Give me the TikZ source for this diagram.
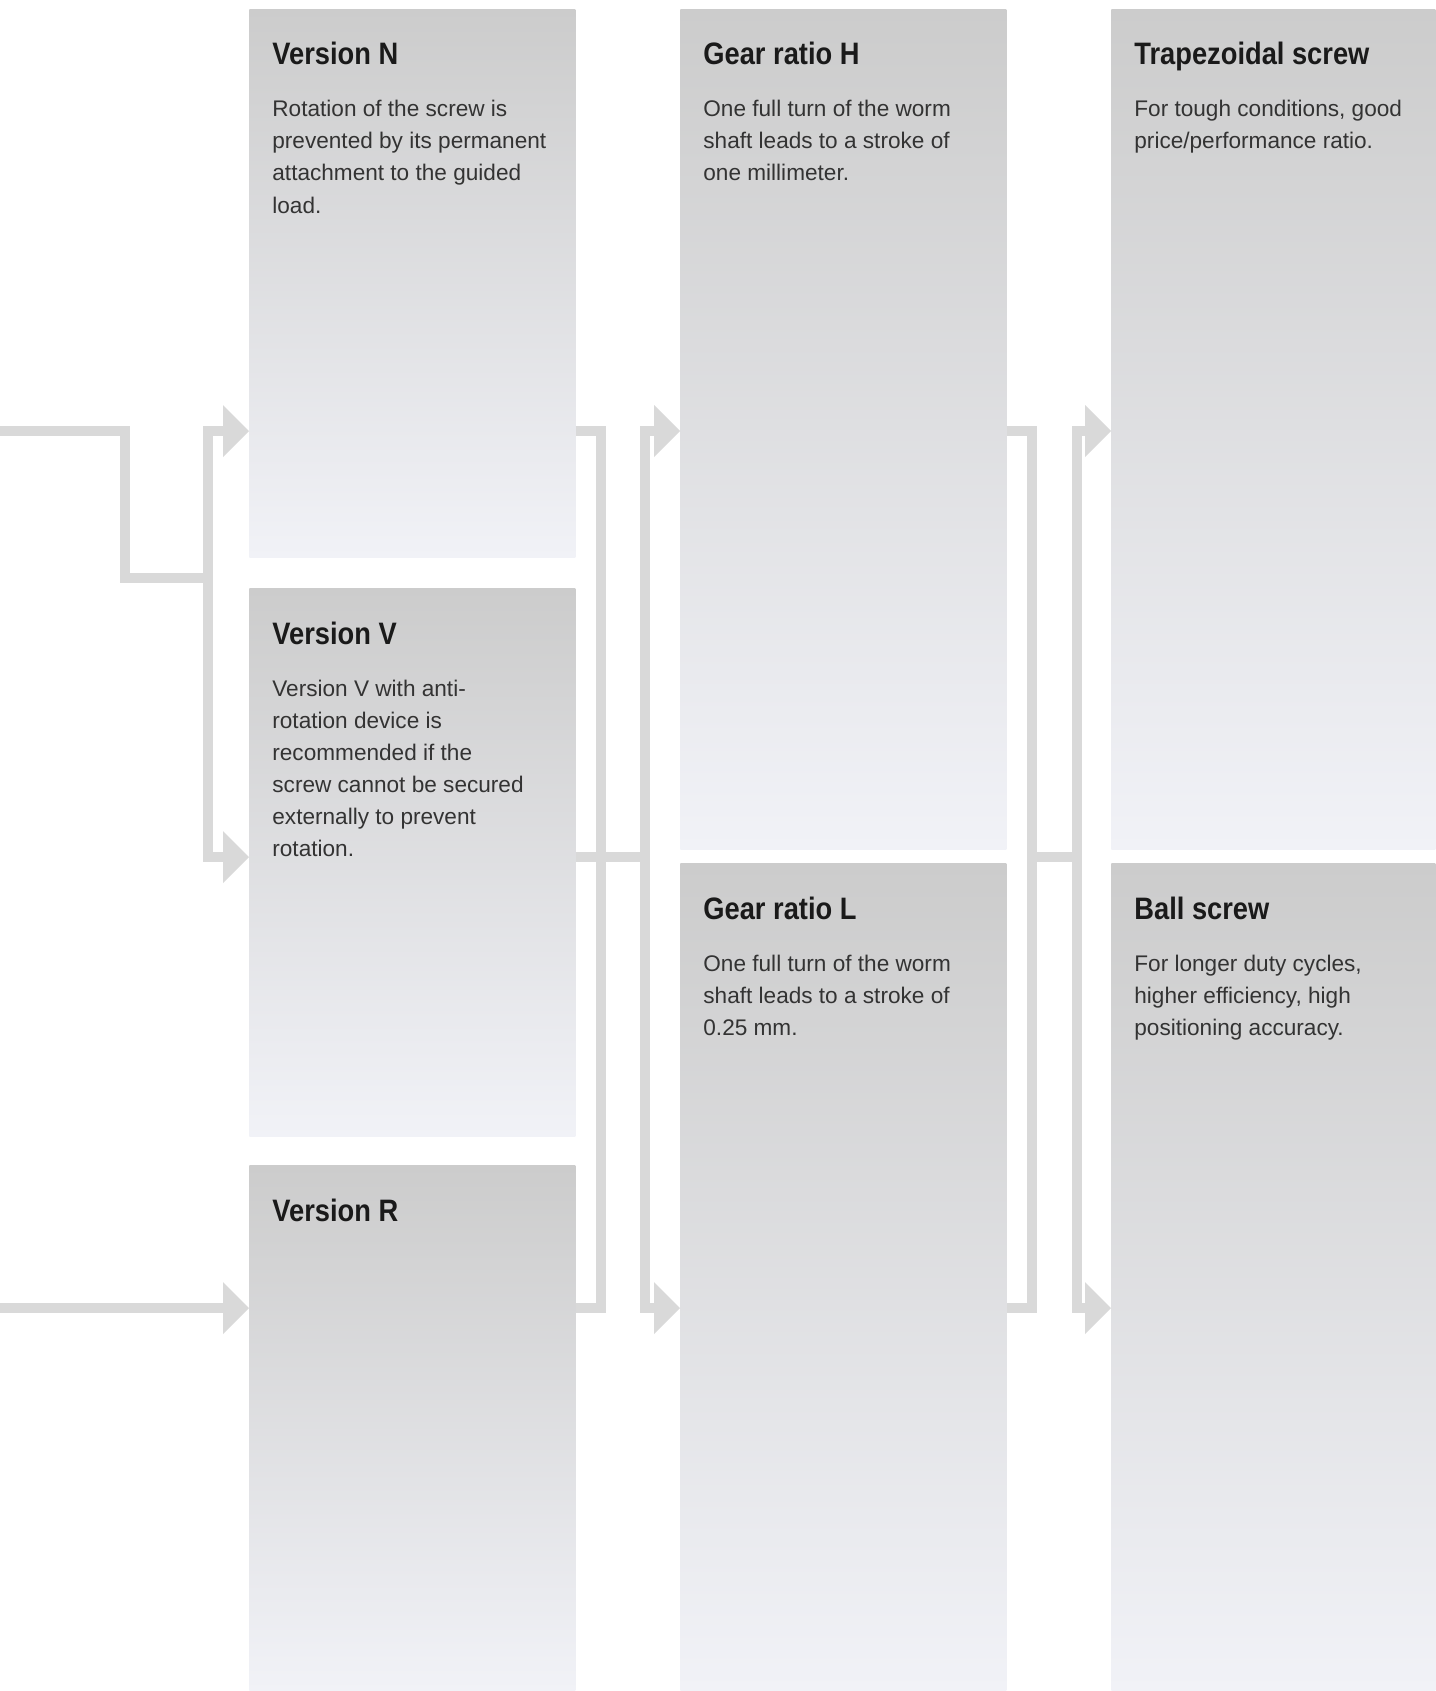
\documentclass[tikz,border=0pt]{standalone}
\usepackage{fontspec}
\setmainfont{Liberation Sans}
\newfontfamily\headfont{Liberation Sans}[FakeStretch=0.88]
\usetikzlibrary{arrows.meta}
\definecolor{pipegray}{HTML}{D9D9D9}
\definecolor{boxtop}{HTML}{CCCCCC}
\definecolor{boxbottom}{HTML}{F1F2F7}
\definecolor{headtext}{HTML}{1A1A1A}
\definecolor{bodytext}{HTML}{333333}
\newcommand{\boxlines}[1]{\begin{tabular}[t]{@{}l@{}}#1\end{tabular}}
\begin{document}
\begin{tikzpicture}[x=0.5pt,y=-0.5pt,>={Triangle[length=13pt,width=26pt,line width=0pt]},
	box/.style={rectangle,inner sep=0pt,anchor=north west,top color=boxtop,bottom color=boxbottom,minimum width=163pt},
	heading/.style={anchor=base west,inner sep=0pt,text=headtext,font=\headfont\bfseries\fontsize{15.5}{18}\selectfont},
	body/.style={anchor=base west,inner sep=0pt,text=bodytext,font=\fontsize{11.3}{16}\selectfont},
	pipe/.style={draw=pipegray,line width=5pt,line join=miter}]
		\useasboundingbox (0,0) rectangle (1435,1691);
		% boxes
		\node[box,minimum height=274pt] (N) at (249,9) {};
		\node[box,minimum height=274pt] (V) at (249,588) {};
		\node[box,minimum height=263pt] (R) at (249,1165) {};
		\node[box,minimum height=420pt] (H) at (680,9) {};
		\node[box,minimum height=414pt] (L) at (680,863) {};
		\node[box,minimum height=420pt,minimum width=162pt] (T) at (1111,9) {};
		\node[box,minimum height=414pt,minimum width=162pt] (B) at (1111,863) {};
		% texts
		\node[heading] (Nh) at ([shift={(23,56)}]N.north west) {Version N};
		\node[body] (Nt) at ([shift={(23,108)}]N.north west) {\boxlines{Rotation of the screw is\\prevented by its permanent\\attachment to the guided\\load.}};
		\node[heading] (Vh) at ([shift={(23,56)}]V.north west) {Version V};
		\node[body] (Vt) at ([shift={(23,108)}]V.north west) {\boxlines{Version V with anti-\\rotation device is\\recommended if the\\screw cannot be secured\\externally to prevent\\rotation.}};
		\node[heading] (Rh) at ([shift={(23,56)}]R.north west) {Version R};
		\node[heading] (Hh) at ([shift={(23,56)}]H.north west) {Gear ratio H};
		\node[body] (Ht) at ([shift={(23,108)}]H.north west) {\boxlines{One full turn of the worm\\shaft leads to a stroke of\\one millimeter.}};
		\node[heading] (Lh) at ([shift={(23,56)}]L.north west) {Gear ratio L};
		\node[body] (Lt) at ([shift={(23,108)}]L.north west) {\boxlines{One full turn of the worm\\shaft leads to a stroke of\\0.25 mm.}};
		\node[heading] (Th) at ([shift={(23,56)}]T.north west) {Trapezoidal screw};
		\node[body] (Tt) at ([shift={(23,108)}]T.north west) {\boxlines{For tough conditions, good\\price/performance ratio.}};
		\node[heading] (Bh) at ([shift={(23,56)}]B.north west) {Ball screw};
		\node[body] (Bt) at ([shift={(23,108)}]B.north west) {\boxlines{For longer duty cycles,\\higher efficiency, high\\positioning accuracy.}};
		% levels of the connectors
		\coordinate (ya) at (0,431);
		\coordinate (yc) at (0,857);
		\coordinate (yd) at (0,1308);
		\coordinate (in1) at (0,431);
		\coordinate (in2) at (0,1308);
		% inlet
		\draw[pipe] (in1) -| (124.5,578) -- (208,578);
		\draw[pipe,<->] (V.west |- yc) -| (208,431) -- (N.west |- ya);
		\draw[pipe,->] (in2) -- (R.west |- yd);
		% column 1 to column 2
		\draw[pipe] (N.east |- ya) -| (601,1308) -- (R.east |- yd);
		\draw[pipe] (V.east |- yc) -- (645,857);
		\draw[pipe,<->] (H.west |- ya) -| (645,1308) -- (L.west |- yd);
		% column 2 to column 3
		\draw[pipe] (H.east |- ya) -| (1032,1308) -- (L.east |- yd);
		\draw[pipe] (1032,857) -- (1077,857);
		\draw[pipe,<->] (T.west |- ya) -| (1077,1308) -- (B.west |- yd);
	\end{tikzpicture}
\end{document}
